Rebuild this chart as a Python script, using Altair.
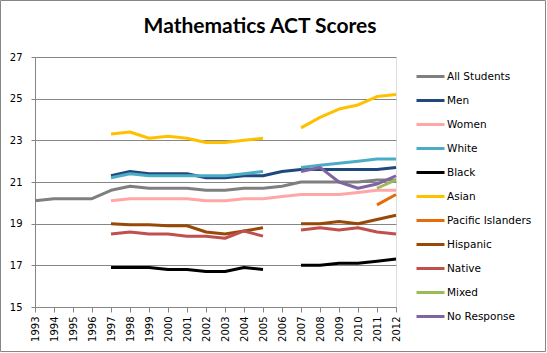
import altair as alt
import pandas as pd

years = list(range(1993, 2013))
N = None
series_names = ["All Students", "Men", "Women", "White", "Black", "Asian",
                "Pacific Islanders", "Hispanic", "Native", "Mixed", "No Response"]
colors = ["#7F7F7F", "#1F497D", "#FFA7A7", "#4BACC6", "#000000", "#FFC000",
          "#E46C0A", "#984807", "#C0504D", "#9BBB59", "#8064A2"]

all_students = [20.1, 20.2, 20.2, 20.2, 20.6, 20.8, 20.7, 20.7, 20.7, 20.6, 20.6, 20.7, 20.7, 20.8, 21.0, 21.0, 21.0, 21.0, 21.1, 21.1]
men = [N, N, N, N, 21.3, 21.5, 21.4, 21.4, 21.4, 21.2, 21.2, 21.3, 21.3, 21.5, 21.6, 21.6, 21.6, 21.6, 21.6, 21.7]
women = [N, N, N, N, 20.1, 20.2, 20.2, 20.2, 20.2, 20.1, 20.1, 20.2, 20.2, 20.3, 20.4, 20.4, 20.4, 20.5, 20.6, 20.6]
white = [N, N, N, N, 21.2, 21.4, 21.3, 21.3, 21.3, 21.3, 21.3, 21.4, 21.5, N, 21.7, 21.8, 21.9, 22.0, 22.1, 22.1]
black = [N, N, N, N, 16.9, 16.9, 16.9, 16.8, 16.8, 16.7, 16.7, 16.9, 16.8, N, 17.0, 17.0, 17.1, 17.1, 17.2, 17.3]
asian = [N, N, N, N, 23.3, 23.4, 23.1, 23.2, 23.1, 22.9, 22.9, 23.0, 23.1, N, 23.6, 24.1, 24.5, 24.7, 25.1, 25.2]
pacific = [N] * 18 + [19.9, 20.4]
hispanic = [N, N, N, N, 19.0, 18.95, 18.95, 18.9, 18.9, 18.6, 18.5, 18.65, 18.8, N, 19.0, 19.0, 19.1, 19.0, 19.2, 19.4]
native = [N, N, N, N, 18.5, 18.6, 18.5, 18.5, 18.4, 18.4, 18.3, 18.65, 18.4, N, 18.7, 18.8, 18.7, 18.8, 18.6, 18.5]
mixed = [N] * 18 + [20.7, 21.1]
no_response = [N] * 14 + [21.5, 21.7, 21.0, 20.7, 20.9, 21.3]

y_ticks = [15, 17, 19, 21, 23, 25, 27]
title_text = "Mathematics ACT Scores"

series_values = [all_students, men, women, white, black, asian, pacific,
                 hispanic, native, mixed, no_response]

rows = []
for idx, (name, vals) in enumerate(zip(series_names, series_values)):
    seg = 0
    for yr, v in zip(years, vals):
        if v is None:
            seg += 1
            continue
        rows.append({"year": yr, "score": v, "series": name,
                     "seg": f"{name}-{seg}", "ord": idx})
df = pd.DataFrame(rows)

GRAY = "#868686"
FONT = "DejaVu Sans"

lines = alt.Chart(df).mark_line(strokeWidth=3, strokeJoin="round").encode(
    x=alt.X("year:Q",
            scale=alt.Scale(domain=[1993, 2012], nice=False, zero=False),
            axis=alt.Axis(values=years, format="d", labelAngle=270, title=None,
                          grid=False, labelAlign="right", labelBaseline="middle",
                          tickSize=5, labelPadding=4, labelFlush=False,
                          labelOverlap=False, domainColor=GRAY, tickColor=GRAY,
                          labelFont=FONT, labelFontSize=10, labelColor="black")),
    y=alt.Y("score:Q",
            scale=alt.Scale(domain=[15, 27], nice=False, zero=False),
            axis=alt.Axis(values=y_ticks, title=None, grid=True, gridColor=GRAY,
                          domainColor=GRAY, tickColor=GRAY, tickSize=4,
                          labelPadding=9, labelFont=FONT, labelFontSize=10,
                          labelColor="black")),
    color=alt.Color("series:N",
                    scale=alt.Scale(domain=series_names, range=colors),
                    legend=alt.Legend(title=None, orient="none", legendX=386,
                                      legendY=10, symbolType="M-1.75,0H1.75",
                                      symbolSize=256, symbolStrokeWidth=3,
                                      labelOffset=7, rowPadding=8, padding=0,
                                      labelFont=FONT, labelFontSize=10.5,
                                      labelColor="black", symbolOpacity=1,
                                      values=series_names)),
    detail="seg:N",
    order="year:Q",
)

frame = alt.Chart(pd.DataFrame({"a": [0]})).mark_rect(
    fill="transparent", stroke=GRAY, strokeWidth=1
).encode(x=alt.value(-34.5), x2=alt.value(510.5), y=alt.value(-56.5), y2=alt.value(294.5))

title = alt.Chart(pd.DataFrame({"t": [title_text]})).mark_text(
    font="Lato", fontSize=21, fontWeight="bold", align="center",
    baseline="alphabetic", color="black"
).encode(text="t:N", x=alt.value(225), y=alt.value(-24))

chart = alt.layer(frame, title, lines).properties(
    width=361, height=250,
    autosize=alt.AutoSizeParams(type="none"),
    padding={"left": 35, "top": 57, "right": 151, "bottom": 46},
).configure_view(stroke=None).configure(background="white")

chart.save("out.html", embed_options={"renderer": "svg", "actions": False})
